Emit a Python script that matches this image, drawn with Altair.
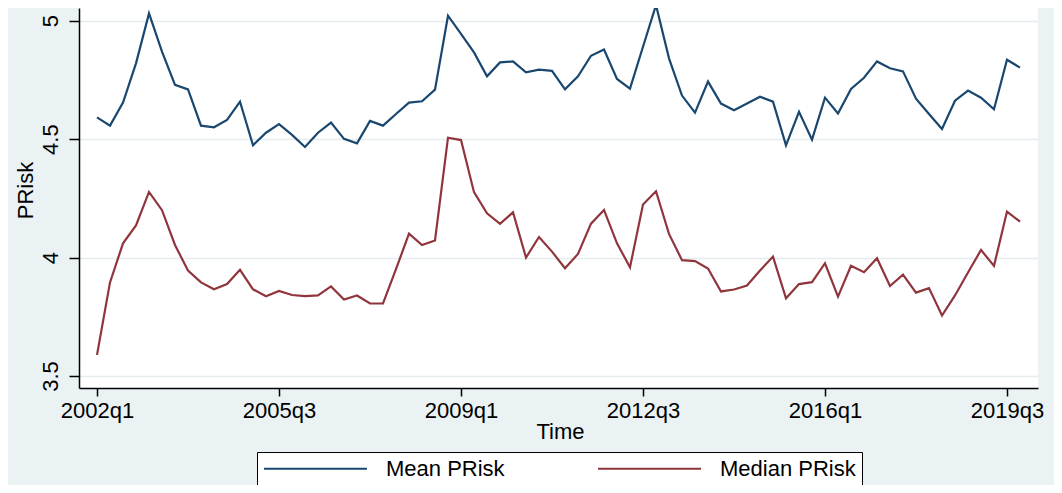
import altair as alt
import pandas as pd

# Quarterly periods 2002q1 .. 2019q4
quarters = [f"{y}q{q}" for y in range(2002, 2020) for q in range(1, 5)]

mean_prisk = [
    4.592, 4.557, 4.654, 4.820, 5.031, 4.869, 4.729, 4.710, 4.557, 4.550,
    4.581, 4.658, 4.474, 4.527, 4.563, 4.518, 4.467, 4.527, 4.570, 4.501,
    4.482, 4.577, 4.557, 4.606, 4.654, 4.660, 4.709, 5.021, 4.944, 4.866,
    4.765, 4.824, 4.828, 4.782, 4.793, 4.788, 4.710, 4.765, 4.852, 4.878,
    4.754, 4.713, 4.890, 5.066, 4.841, 4.684, 4.612, 4.743, 4.650, 4.622,
    4.650, 4.679, 4.658, 4.474, 4.615, 4.498, 4.675, 4.608, 4.712, 4.759,
    4.828, 4.799, 4.786, 4.671, 4.606, 4.543, 4.662, 4.705, 4.675, 4.626,
    4.835, 4.802,
]

median_prisk = [
    3.589, 3.895, 4.060, 4.136, 4.277, 4.200, 4.053, 3.945, 3.895, 3.866,
    3.888, 3.948, 3.866, 3.837, 3.859, 3.842, 3.837, 3.840, 3.878, 3.823,
    3.840, 3.806, 3.806, 3.951, 4.101, 4.053, 4.072, 4.506, 4.496, 4.276,
    4.187, 4.142, 4.191, 4.000, 4.087, 4.025, 3.955, 4.015, 4.143, 4.201,
    4.060, 3.959, 4.224, 4.280, 4.100, 3.989, 3.985, 3.954, 3.857, 3.865,
    3.882, 3.945, 4.004, 3.828, 3.888, 3.896, 3.976, 3.835, 3.965, 3.938,
    3.997, 3.880, 3.928, 3.852, 3.871, 3.755, 3.840, 3.937, 4.032, 3.965,
    4.194, 4.152,
]

series_names = ["Mean PRisk", "Median PRisk"]
series_colors = ["#1a476f", "#90353b"]

x_tick_labels = ["2002q1", "2005q3", "2009q1", "2012q3", "2016q1", "2019q3"]
y_ticks = [3.5, 4, 4.5, 5]

rows = []
for i, q in enumerate(quarters):
    rows.append({"t": i, "quarter": q, "series": series_names[0], "value": mean_prisk[i]})
    rows.append({"t": i, "quarter": q, "series": series_names[1], "value": median_prisk[i]})
df = pd.DataFrame(rows)

tick_idx = [quarters.index(l) for l in x_tick_labels]
label_expr = ""
for idx, lab in zip(tick_idx, x_tick_labels):
    label_expr += f"datum.value == {idx} ? '{lab}' : "
label_expr += "''"

FONT = "Liberation Sans"
BG = "#eaf2f3"
FS = 22

chart = alt.Chart(df).mark_line(strokeWidth=2.2).encode(
    x=alt.X(
        "t:Q",
        scale=alt.Scale(domain=[-1.385, 72.385], nice=False, zero=False),
        axis=alt.Axis(
            values=tick_idx,
            labelExpr=label_expr,
            title="Time",
            grid=False,
            domainColor="black",
            domainWidth=1.5,
            tickColor="black",
            tickWidth=1.5,
            tickSize=8,
            labelFont=FONT,
            labelFontSize=FS,
            labelColor="black",
            labelBaseline="alphabetic",
            labelPadding=21,
            labelFlush=False,
            titleFont=FONT,
            titleFontSize=FS,
            titleFontWeight="normal",
            titleColor="black",
            titleX=481,
            titleY=50,
            titleAlign="center",
            titleBaseline="alphabetic",
        ),
    ),
    y=alt.Y(
        "value:Q",
        scale=alt.Scale(domain=[3.4493, 5.0536], nice=False, zero=False),
        axis=alt.Axis(
            values=y_ticks,
            format="~g",
            title="PRisk",
            grid=True,
            gridColor="#e4eced",
            gridWidth=1.5,
            domainColor="black",
            domainWidth=1.5,
            tickColor="black",
            tickWidth=1.5,
            tickSize=10,
            labelFont=FONT,
            labelFontSize=FS,
            labelColor="black",
            labelAngle=270,
            labelAlign="center",
            labelBaseline="alphabetic",
            labelPadding=12,
            labelFlush=False,
            titleFont=FONT,
            titleFontSize=FS,
            titleFontWeight="normal",
            titleColor="black",
            titleAngle=270,
            titleX=-47,
            titleY=182,
            titleAlign="center",
            titleBaseline="alphabetic",
        ),
    ),
    color=alt.Color(
        "series:N",
        scale=alt.Scale(domain=series_names, range=series_colors),
        title=None,
        legend=alt.Legend(
            orient="none",
            legendX=178,
            legendY=444,
            direction="horizontal",
            symbolType="stroke",
            symbolSize=10609,
            symbolStrokeWidth=2,
            clipHeight=21,
            labelFont=FONT,
            labelFontSize=FS,
            labelColor="black",
            labelOffset=18,
            columnPadding=92,
            padding=6,
            fillColor="white",
            strokeColor="black",
        ),
    ),
    detail="series:N",
).properties(
    width=959,
    height=380,
    background=BG,
    padding={"left": 71, "top": 0, "right": 16, "bottom": 97},
    autosize=alt.AutoSizeParams(type="none"),
).configure_view(
    fill="white",
    stroke=None,
)

chart.save("out.html", embed_options={"renderer": "svg", "actions": False})
